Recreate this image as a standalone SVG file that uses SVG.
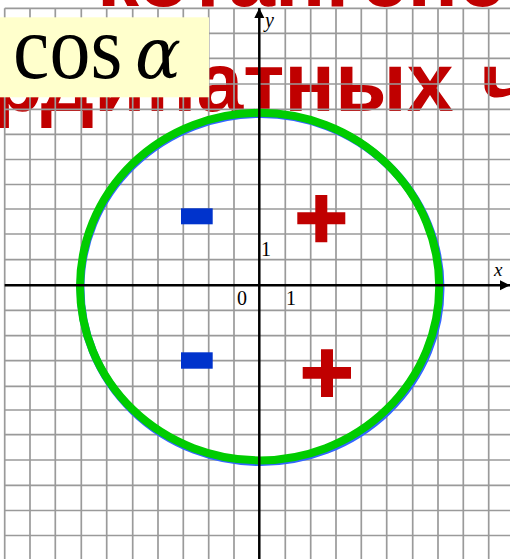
<svg xmlns="http://www.w3.org/2000/svg" width="510" height="559" viewBox="0 0 510 559">
<style>
.title{font-family:"Liberation Sans",Arial,sans-serif;font-weight:bold;font-size:84px;fill:#C00000}
.grid{fill:none;stroke:#9a9a9a;stroke-width:1.7}
.axis{stroke:#000;stroke-width:2.5;fill:none}
.lbl{font-family:"Liberation Serif","Times New Roman",serif;fill:#000}
.it{font-style:italic}
.minus{fill:#0033CC}
.plus{fill:#C00000}
</style>
<defs>
<marker id="arr" viewBox="0 0 10 10" refX="10" refY="5" markerWidth="10" markerHeight="11" markerUnits="userSpaceOnUse" orient="auto">
<path d="M0,0 L10,5 L0,10 Z" fill="#000"/>
</marker>
</defs>
<rect width="510" height="559" fill="#fff"/>
<g id="title">
<text class="title" x="97" y="6">котангенс</text>
<text class="title" x="-152" y="110.7">координатных<tspan x="481">ч</tspan></text>
</g>
<g id="grid">
<path class="grid" d="M4.7,8.3V559M30,8.3V559M55.3,8.3V559M81.3,8.3V559M106.7,8.3V559M132.7,8.3V559M158,8.3V559M183.3,8.3V559M208.7,8.3V559M234,8.3V559M285.3,8.3V559M310.7,8.3V559M336,8.3V559M361.3,8.3V559M386.7,8.3V559M412.7,8.3V559M438,8.3V559M463.3,8.3V559M488.7,8.3V559
M4.7,8.3H510M4.7,33.3H510M4.7,58.3H510M4.7,84H510M4.7,109.3H510M4.7,134.3H510M4.7,159.5H510M4.7,184.5H510M4.7,209H510M4.7,234H510M4.7,259.7H510M4.7,310.3H510M4.7,335.7H510M4.7,360.7H510M4.7,386.3H510M4.7,410H510M4.7,434.7H510M4.7,460H510M4.7,485.3H510M4.7,510.5H510M4.7,535.5H510"/>
</g>
<g id="formula">
<rect x="0" y="17.3" width="209" height="80" fill="#FFFFCC"/>
<text class="lbl" transform="translate(13,78) scale(1,1.1)" font-size="82">cos</text>
<text class="it" transform="translate(135,78) scale(1,1.05)" font-family="'DejaVu Serif',serif" font-size="68" fill="#000">α</text>
</g>
<g id="circle">
<ellipse cx="260.5" cy="288" rx="180" ry="174" fill="none" stroke="#3366FF" stroke-width="8"/>
<ellipse cx="259.6" cy="286.6" rx="179.6" ry="173.8" fill="none" stroke="#00CC00" stroke-width="8"/>
</g>
<g id="axes">
<line class="axis" x1="4.7" y1="285.3" x2="510" y2="285.3" marker-end="url(#arr)"/>
<line class="axis" x1="259.3" y1="559" x2="259.3" y2="8" marker-end="url(#arr)"/>
</g>
<g id="labels">
<text class="lbl it" x="265" y="27" font-size="20">y</text>
<text class="lbl it" x="494" y="276" font-size="19">x</text>
<text class="lbl" x="261" y="256" font-size="20">1</text>
<text class="lbl" x="237" y="305" font-size="20">0</text>
<text class="lbl" x="286" y="305" font-size="20">1</text>
</g>
<g id="signs">
<rect class="minus" x="181" y="208.3" width="31.7" height="16"/>
<rect class="minus" x="181" y="352.3" width="31.7" height="16.4"/>
<path class="plus" d="M297.3,212.3H315.3V195H327.3V212.3H345.3V224.3H327.3V242.3H315.3V224.3H297.3Z"/>
<path class="plus" d="M302.7,367H321V349.3H333V367H351V378.7H333V397H321V378.7H302.7Z"/>
</g>
</svg>
